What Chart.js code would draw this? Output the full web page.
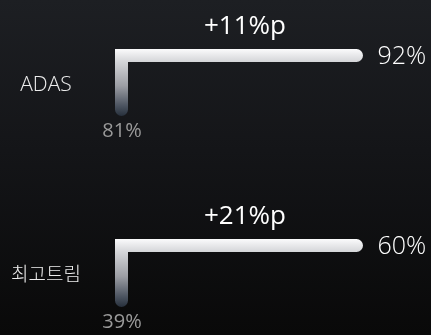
<!DOCTYPE html>
<html lang="ko">
  <head>
    <meta charset="UTF-8" />
    <title>ADAS / 최고트림</title>
    <script src="https://cdn.jsdelivr.net/npm/chart.js"></script>
    <style>
      html, body { margin: 0; padding: 0; }
      body {
        width: 431px;
        height: 335px;
        overflow: hidden;
        background: linear-gradient(180deg, #1d1f23 0%, #141518 45%, #090909 100%);
      }
      #wrap { position: relative; width: 431px; height: 335px; }
    </style>
  </head>
  <body>
    <div id="wrap"><canvas id="myChart"></canvas></div>

    <script>
      // data
      const categories = ["ADAS", "최고트림"];
      const beforeValues = [81, 39];
      const afterValues = [92, 60];
      const stages = ["before", "after"];

      // where each row's step sits inside the plot (fraction of height: top, bottom)
      const ROW_BANDS = [
        [0.1657, 0.3269],
        [0.7328, 0.897],
      ];

      const FONT = '"Open Sans", "Noto Sans CJK KR", sans-serif';

      function rangeFor(i) {
        const [ft, fb] = ROW_BANDS[i];
        const span = (afterValues[i] - beforeValues[i]) / (fb - ft);
        const max = afterValues[i] + ft * span;
        return { min: max - span, max: max };
      }

      const scales = {
        x: { type: "category", display: false, offset: false },
      };
      categories.forEach((c, i) => {
        const r = rangeFor(i);
        scales["y" + i] = { type: "linear", display: false, min: r.min, max: r.max };
      });

      // stroke gradient, white at top fading to dark slate at the bottom of the riser
      function stepColor(ctx) {
        const chart = ctx.chart;
        const i = ctx.datasetIndex;
        const ys = chart.scales["y" + i];
        if (!chart.chartArea || !ys) return "#dddddd";
        const top = ys.getPixelForValue(afterValues[i]) - 6.5;
        const bot = ys.getPixelForValue(beforeValues[i]) + 6.5;
        const g = chart.ctx.createLinearGradient(0, top, 0, bot);
        g.addColorStop(0, "#fbfbfc");
        g.addColorStop(0.18, "#d6d7da");
        g.addColorStop(0.55, "#9c9ea4");
        g.addColorStop(0.85, "#4b5360");
        g.addColorStop(1, "#27303c");
        return g;
      }

      const datasets = categories.map((c, i) => ({
        label: c,
        data: [beforeValues[i], afterValues[i]],
        yAxisID: "y" + i,
        stepped: "after",
        borderWidth: 13,
        borderColor: stepColor,
        borderCapStyle: "round",
        borderJoinStyle: "miter",
        pointRadius: 0,
        fill: false,
        clip: false,
      }));

      const labelPlugin = {
        id: "stepLabels",
        afterDatasetsDraw(chart) {
          const ctx = chart.ctx;
          const xs = chart.scales.x;
          const xb = xs.getPixelForValue(0);
          const xa = xs.getPixelForValue(1);
          ctx.save();
          ctx.textBaseline = "middle";
          categories.forEach((c, i) => {
            const ys = chart.scales["y" + i];
            const yb = ys.getPixelForValue(beforeValues[i]);
            const ya = ys.getPixelForValue(afterValues[i]);

            // category name (hangul glyphs run wider, so a bit smaller)
            const hangul = /[\uAC00-\uD7A3]/.test(c);
            ctx.fillStyle = "#ececec";
            ctx.font = "300 " + (hangul ? 19 : 21) + "px " + FONT;
            ctx.textAlign = "center";
            ctx.fillText(c, 46, (ya + yb) / 2 + (hangul ? 3 : 3));

            // change
            ctx.fillStyle = "#ffffff";
            ctx.font = "26px " + FONT;
            ctx.fillText("+" + (afterValues[i] - beforeValues[i]) + "%p", (xa + xb) / 2 + 6, ya - 29);

            // before value
            ctx.fillStyle = "#9a9a9a";
            ctx.font = "20px " + FONT;
            ctx.fillText(beforeValues[i] + "%", xb + 0.5, yb + 22);

            // after value
            ctx.fillStyle = "#ffffff";
            ctx.font = "300 25px " + FONT;
            ctx.textAlign = "left";
            ctx.fillText(afterValues[i] + "%", xa + 21, ya + 1.5);
          });
          ctx.restore();
        },
      };

      new Chart(document.getElementById("myChart"), {
        type: "line",
        data: { labels: stages, datasets: datasets },
        options: {
          responsive: true,
          maintainAspectRatio: false,
          animation: false,
          layout: { padding: { left: 121.5, right: 74.5, top: 0, bottom: 0 } },
          scales: scales,
          plugins: {
            legend: { display: false },
            tooltip: { enabled: false },
          },
        },
        plugins: [labelPlugin],
      });
    </script>
  </body>
</html>
